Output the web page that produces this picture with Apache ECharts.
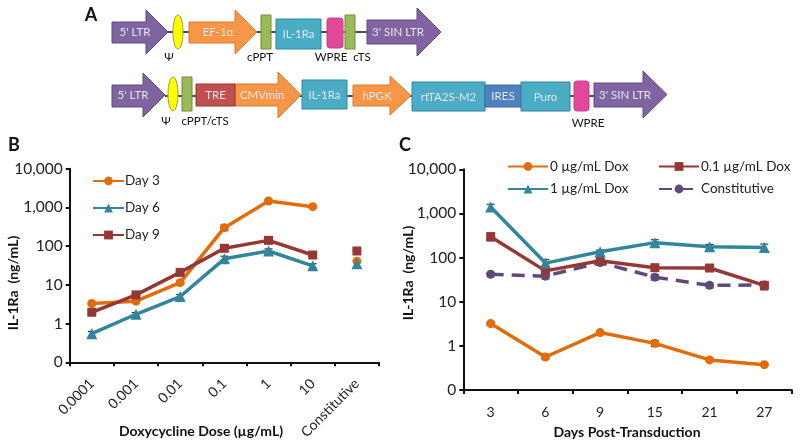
<!DOCTYPE html>
<html>
<head>
<meta charset="utf-8">
<script src="https://cdn.jsdelivr.net/npm/echarts@6/dist/echarts.min.js"></script>
<style>
html,body{margin:0;padding:0;background:#fff;}
#main{width:800px;height:446px;}
</style>
</head>
<body>
<div id="main"></div>
<script>
// panel B
var doseLabels = ['0.0001', '0.001', '0.01', '0.1', '1', '10', 'Constitutive'];
var day3 = [3.3, 3.8, 11.4, 300, 1460, 1045];
var day6 = [0.55, 1.74, 5, 47, 75, 31];
var day9 = [1.96, 5.5, 21, 88, 141, 59];
var day3Constitutive = 41;
var day6Constitutive = 35;
var day9Constitutive = 75;
var day3Err = [0.2, 0.3, 1, 50, 120, 50];
var day6Err = [0.08, 0.2, 0.6, 8, 10, 4];
var day9Err = [0.2, 0.5, 2, 8, 15, 6];

// panel C
var dayLabels = ['3', '6', '9', '15', '21', '27'];
var dox0 = [3.2, 0.56, 2, 1.14, 0.48, 0.375];
var dox01 = [298, 50, 85, 59, 58, 23.5];
var dox1 = [1400, 75, 136, 218, 177, 170];
var constitutive = [42, 38, 77, 36, 23.5, 24];
var dox0Err = [0.3, 0.06, 0.15, 0.18, 0.03, 0.02];
var dox01Err = [60, 8, 12, 7, 7, 5];
var dox1Err = [220, 15, 12, 35, 22, 32];
var constitutiveErr = [3, 5, 10, 5, 3, 3];

var ORANGE = '#E36C0A', TEAL = '#31859C', RED = '#953735', PURPLE = '#5F497A';
var FONT = 'Lato';

// ---- schematic helpers (panel A) ----
var graphics = [];

function arrow(name, x0, x1, head, top, bot, headTop, headBot, fill, stroke, textX) {
	var mid = (headTop + headBot) / 2;
	graphics.push({
		type: 'polygon',
		z: 3,
		shape: {points: [[x0, top], [head, top], [head, headTop], [x1, mid], [head, headBot], [head, bot], [x0, bot]]},
		style: {fill: fill, stroke: stroke, lineWidth: 1}
	});
	inner(name, textX, mid + 0.5);
}
function box(name, x0, x1, top, bot, fill, stroke, r) {
	graphics.push({
		type: 'rect',
		z: 3,
		shape: {x: x0, y: top, width: x1 - x0, height: bot - top, r: r || 0},
		style: {fill: fill, stroke: stroke, lineWidth: 1}
	});
	if (name) inner(name, (x0 + x1) / 2, (top + bot) / 2 + 0.5);
}
function inner(name, x, y) {
	graphics.push({
		type: 'text',
		z: 4,
		style: {text: name, x: x, y: y, fill: '#E6E6EE', font: '11.5px ' + FONT, textAlign: 'center', textVerticalAlign: 'middle'}
	});
}
function label(name, x, y, font, rotation) {
	var el = {
		type: 'text',
		z: 4,
		style: {text: name, fill: '#111', font: font || ('11.5px ' + FONT), textAlign: 'center', textVerticalAlign: 'middle'}
	};
	el.x = x;
	el.y = y;
	if (rotation) el.rotation = rotation;
	graphics.push(el);
}
function wire(x0, x1, y) {
	graphics.push({type: 'line', z: 2, shape: {x1: x0, y1: y, x2: x1, y2: y}, style: {stroke: '#111', lineWidth: 1.5}});
}
function psi(x, y, ry) {
	graphics.push({type: 'ellipse', z: 3, shape: {cx: x, cy: y, rx: 5, ry: ry}, style: {fill: '#FFFF00', stroke: '#9A9A3A', lineWidth: 1}});
}

var LTR = '#8064A2', LTR_B = '#5F497A', OR = '#F79646', OR_B = '#D9782E', GR = '#9BBB59', GR_B = '#71893F',
	BL = '#4BACC6', BL_B = '#31859C', PK = '#E0489A', PK_B = '#C93C88';

// construct 1
wire(168, 367, 32);
arrow("5' LTR", 112, 168, 146, 22, 43, 10, 54, LTR, LTR_B, 135);
psi(178, 32, 17);
arrow('EF-1α', 189, 257, 235, 22, 43, 10, 54, OR, OR_B, 218);
box('', 261, 271, 15, 49, GR, GR_B);
box('IL-1Ra', 276, 321, 19, 49, BL, BL_B);
box('', 327, 343, 18, 48, PK, PK_B, 3);
box('', 345, 355, 15, 49, GR, GR_B);
arrow("3' SIN LTR", 367, 441, 417, 20, 44, 8, 56, LTR, LTR_B, 398);
label('Ψ', 169, 57);
label('cPPT', 260, 57);
label('WPRE', 331, 57);
label('cTS', 362, 57);

// construct 2
wire(165, 594, 96);
arrow("5' LTR", 112, 165, 143, 85, 107, 73, 117, LTR, LTR_B, 133);
psi(173, 94, 17);
box('', 182, 192, 77, 111, GR, GR_B);
arrow('CMVmin', 235, 301, 278, 84, 106, 72, 118, OR, OR_B, 262);
box('TRE', 196, 235, 84, 106, '#C0504D', '#953735');
box('IL-1Ra', 302, 347, 80, 109, BL, BL_B);
arrow('hPGK', 353, 411, 390, 85, 106, 76, 115, OR, OR_B, 377);
box('rtTA2S-M2', 412, 485, 82, 111, BL, BL_B);
box('IRES', 485, 521, 85, 107, '#4F81BD', '#3E6A9E');
box('Puro', 521, 570, 82, 111, BL, BL_B);
box('', 574, 589, 81, 111, PK, PK_B, 3);
arrow("3' SIN LTR", 594, 667, 643, 83, 107, 71, 118, LTR, LTR_B, 625);
label('Ψ', 166, 121);
label('cPPT/cTS', 205, 121);
label('WPRE', 588, 123);

// panel letters and axis titles
var LETTER = 'bold 18px ' + FONT;
var TITLE = 'bold 14px ' + FONT;
label('A', 91, 15, LETTER);
label('B', 14, 145, LETTER);
label('C', 405, 145, LETTER);
label('IL-1Ra  (ng/mL)', 13, 283, TITLE, Math.PI / 2);
label('IL-1Ra  (ng/mL)', 408, 273, TITLE, Math.PI / 2);
label('Doxycycline Dose (µg/mL)', 201, 431, TITLE);
label('Days Post-Transduction', 627, 432, TITLE);

// ---- chart helpers ----
function xAxis(grid, labels, rotate, margin) {
	return {
		type: 'category',
		gridIndex: grid,
		data: labels,
		axisLine: {lineStyle: {color: '#111', width: 2}},
		axisTick: {show: true, length: 4, alignWithLabel: false, lineStyle: {color: '#111', width: 2}},
		axisLabel: {color: '#222', fontFamily: FONT, fontSize: 14, rotate: rotate, margin: margin, interval: 0}
	};
}
function yAxis(grid) {
	return {
		type: 'log',
		gridIndex: grid,
		logBase: 10,
		min: 0.1,
		max: 10000,
		splitLine: {show: false},
		minorTick: {show: false},
		axisLine: {show: true, lineStyle: {color: '#111', width: 2}},
		axisTick: {show: true, length: 4, lineStyle: {color: '#111', width: 2}},
		axisLabel: {
			color: '#222', fontFamily: FONT, fontSize: 15.5, margin: 7,
			formatter: function(v) {
				return v < 1 ? '0' : Number(Math.round(v)).toLocaleString('en-US');
			}
		}
	};
}
function line(name, grid, values, color, symbol, size, dash) {
	return {
		name: name,
		type: 'line',
		xAxisIndex: grid,
		yAxisIndex: grid,
		data: values,
		symbol: symbol,
		symbolSize: size,
		showSymbol: true,
		showAllSymbol: true,
		z: 3,
		lineStyle: {color: color, width: 3.5, type: dash || 'solid'},
		itemStyle: {color: color}
	};
}
function lone(name, grid, index, value, color, symbol, size) {
	return {
		name: name,
		type: 'scatter',
		xAxisIndex: grid,
		yAxisIndex: grid,
		data: [[index, value]],
		symbol: symbol,
		symbolSize: size,
		z: 3,
		itemStyle: {color: color, opacity: 1}
	};
}
function errorBars(grid, values, errs) {
	var rows = [];
	for (var i = 0; i < values.length; i++) {
		rows.push([i, values[i], errs[i]]);
	}
	return {
		type: 'custom',
		xAxisIndex: grid,
		yAxisIndex: grid,
		data: rows,
		encode: {x: 0, y: 1},
		z: 2,
		silent: true,
		renderItem: function(params, api) {
			var x = api.value(0), v = api.value(1), e = api.value(2);
			var hi = api.coord([x, v + e]), lo = api.coord([x, v - e]);
			var cap = 4;
			var st = {stroke: '#111', lineWidth: 1, fill: null};
			return {
				type: 'group',
				children: [
					{type: 'line', shape: {x1: hi[0], y1: hi[1], x2: lo[0], y2: lo[1]}, style: st},
					{type: 'line', shape: {x1: hi[0] - cap, y1: hi[1], x2: hi[0] + cap, y2: hi[1]}, style: st},
					{type: 'line', shape: {x1: lo[0] - cap, y1: lo[1], x2: lo[0] + cap, y2: lo[1]}, style: st}
				]
			};
		}
	};
}
function legend(names, left, top, itemWidth, itemGap, textShift) {
	return {
		data: names,
		left: left,
		top: top,
		orient: 'vertical',
		itemWidth: itemWidth,
		itemHeight: 11,
		itemGap: itemGap,
		padding: 0,
		textStyle: {color: '#222', fontFamily: FONT, fontSize: 13.5, padding: [0, 0, 0, textShift]}
	};
}

var lastDose = doseLabels.length - 1;
var option = {
	animation: false,
	backgroundColor: '#fff',
	graphic: {elements: graphics},
	grid: [
		{left: 69.7, right: 421, top: 168.7, bottom: 83.7},
		{left: 463.3, right: 8.3, top: 169.3, bottom: 56}
	],
	xAxis: [xAxis(0, doseLabels, 45, 19), xAxis(1, dayLabels, 0, 15)],
	yAxis: [yAxis(0), yAxis(1)],
	legend: [
		legend(['Day 3', 'Day 6', 'Day 9'], 92, 174, 31, 13, -4),
		legend(['0 µg/mL Dox', '1 µg/mL Dox'], 507, 159.5, 40, 8.5, -3),
		legend(['0.1 µg/mL Dox', 'Constitutive'], 658, 159.5, 40, 8.5, -3)
	],
	series: [
		errorBars(0, day3, day3Err),
		errorBars(0, day6, day6Err),
		errorBars(0, day9, day9Err),
		line('Day 3', 0, day3, ORANGE, 'circle', 9),
		line('Day 6', 0, day6, TEAL, 'triangle', 11),
		line('Day 9', 0, day9, RED, 'rect', 9),
		lone('Day 3', 0, lastDose, day3Constitutive, ORANGE, 'circle', 9),
		lone('Day 6', 0, lastDose, day6Constitutive, TEAL, 'triangle', 11),
		lone('Day 9', 0, lastDose, day9Constitutive, RED, 'rect', 9),
		errorBars(1, dox0, dox0Err),
		errorBars(1, dox01, dox01Err),
		errorBars(1, dox1, dox1Err),
		errorBars(1, constitutive, constitutiveErr),
		line('Constitutive', 1, constitutive, PURPLE, 'circle', 9, [13, 8]),
		line('0 µg/mL Dox', 1, dox0, ORANGE, 'circle', 9),
		line('0.1 µg/mL Dox', 1, dox01, RED, 'rect', 9),
		line('1 µg/mL Dox', 1, dox1, TEAL, 'triangle', 11)
	]
};

var myChart = echarts.init(document.getElementById('main'));
myChart.setOption(option);
</script>
</body>
</html>
